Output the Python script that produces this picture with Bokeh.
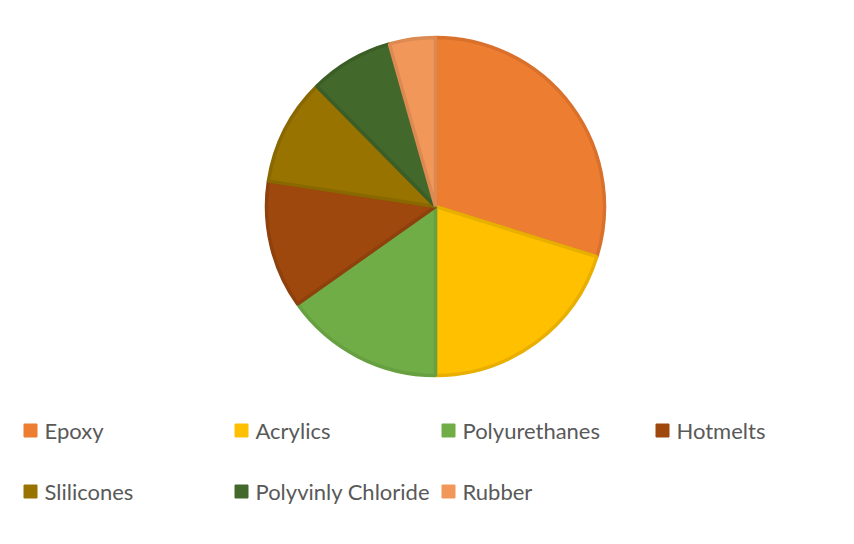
import math
from bokeh.plotting import figure
from bokeh.models import ColumnDataSource, Range1d
from bokeh.core.properties import value
from bokeh.embed import file_html
from bokeh.resources import INLINE

categories = ["Epoxy", "Acrylics", "Polyurethanes", "Hotmelts", "Slilicones", "Polyvinly Chloride", "Rubber"]
shares = [29.8, 20.2, 15.2, 12.2, 10.2, 8.0, 4.4]
colors = ["#ED7D31", "#FFC000", "#70AD47", "#9E480E", "#997300", "#43682B", "#F1975A"]
borders = ["#D9712C", "#E8AF00", "#66A040", "#8E410D", "#8A6800", "#3B5E26", "#DD8A52"]

W, H = 838, 528
p = figure(width=W, height=H, output_backend="svg", toolbar_location=None,
           x_range=Range1d(0, W), y_range=Range1d(544 - H, 544),
           min_border=0)
p.axis.visible = False
p.grid.visible = False
p.outline_line_color = None
p.background_fill_color = "white"

total = sum(shares)
starts, ends = [], []
a = math.pi / 2
for s in shares:
    starts.append(a)
    a -= s / total * 2 * math.pi
    ends.append(a)

src = ColumnDataSource(dict(start=starts, end=ends, color=colors, border=borders))
p.wedge(x=435, y=544 - 206, radius=169, radius_units="screen",
        start_angle="start", end_angle="end", direction="clock",
        fill_color="color", line_color="border", line_width=3.5, source=src)

# legend
col_x = [30, 241, 448, 662]
row_y = [430, 491]
lx, ly, lt, lc = [], [], [], []
for i, c in enumerate(categories):
    r, k = divmod(i, 4)
    lx.append(col_x[k]); ly.append(544 - row_y[r]); lt.append(c); lc.append(colors[i])
lsrc = ColumnDataSource(dict(x=lx, y=ly, tx=[v + 14 for v in lx], t=lt, c=lc))
p.rect(x="x", y="y", width=13, height=13, width_units="screen", height_units="screen",
       fill_color="c", line_color="c", source=lsrc)
p.text(x="tx", y="y", text="t", text_font=value("Lato"), text_font_size="22px",
       text_color="#595959", text_baseline="middle", source=lsrc)

open("out.html", "w").write(file_html(p, INLINE))
